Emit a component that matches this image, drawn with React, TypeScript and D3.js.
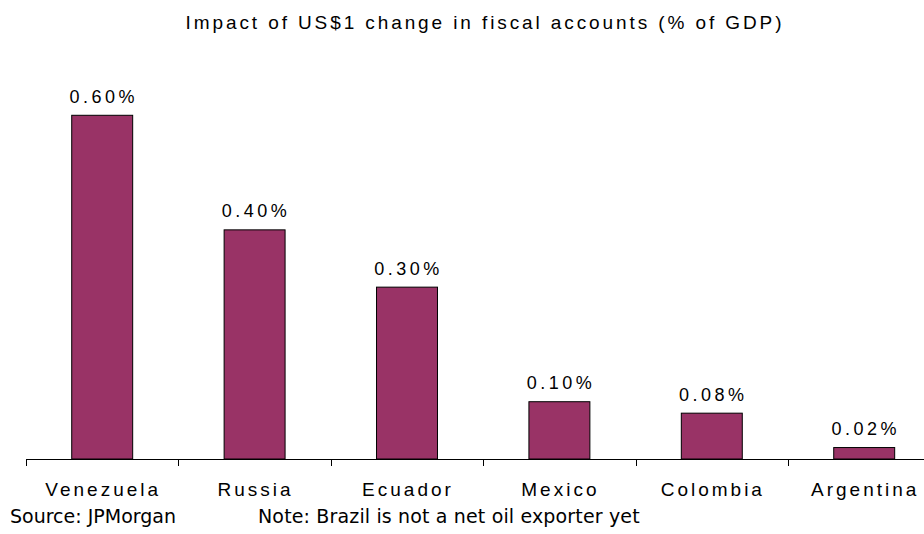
import React from "react";
import * as d3 from "d3";

const categories = ["Venezuela", "Russia", "Ecuador", "Mexico", "Colombia", "Argentina"];
const values = [0.6, 0.4, 0.3, 0.1, 0.08, 0.02];
const valueLabels = ["0.60%", "0.40%", "0.30%", "0.10%", "0.08%", "0.02%"];
const title = "Impact of US$1 change in fiscal accounts (% of GDP)";
const sourceText = "Source: JPMorgan";
const noteText = "Note: Brazil is not a net oil exporter yet";

export default function App() {
  const W = 924, H = 534;
  const x0 = 26, step = 152.4;
  const x = d3.scaleBand<string>().domain(categories).range([x0, x0 + step * categories.length]).padding(0);
  const y = d3.scaleLinear().domain([0, 0.7]).range([459, 58]);
  const bw = x.bandwidth() * 0.4;
  const ticks = d3.range(categories.length + 1).map((i) => x0 + i * x.step());
  const labelFont = "'Liberation Sans', Arial, sans-serif";
  return (
    <svg width={W} height={H} style={{ position: "absolute", left: 0, top: 0, background: "#fff" }}>
      <text x={485} y={29} textAnchor="middle" fontFamily={labelFont} fontSize={19} letterSpacing={2.9} fill="#000">
        {title}
      </text>
      {categories.map((c, i) => {
        const cx = (x(c) as number) + x.bandwidth() / 2;
        return (
          <g key={c}>
            <rect x={cx - bw / 2} y={y(values[i])} width={bw} height={y(0) - y(values[i])} fill="#993366" stroke="#000" strokeWidth={1} />
            <text x={cx + 1.5} y={y(values[i]) - 12.5} textAnchor="middle" fontFamily={labelFont} fontSize={18} letterSpacing={3.5} fill="#000">
              {valueLabels[i]}
            </text>
            <text x={cx + 1} y={496} textAnchor="middle" fontFamily={labelFont} fontSize={19} letterSpacing={3} fill="#000">
              {c}
            </text>
          </g>
        );
      })}
      <line x1={x0} x2={W} y1={459.5} y2={459.5} stroke="#000" strokeWidth={1} />
      {ticks.map((t, i) => (
        <line key={i} x1={Math.round(t) + 0.5} x2={Math.round(t) + 0.5} y1={459} y2={466} stroke="#000" strokeWidth={1} />
      ))}
      <text x={10} y={523} fontFamily="'DejaVu Sans', Verdana, sans-serif" fontSize={19} fill="#000">
        {sourceText}
      </text>
      <text x={258} y={523} fontFamily="'DejaVu Sans', Verdana, sans-serif" fontSize={19} letterSpacing={0.15} fill="#000">
        {noteText}
      </text>
    </svg>
  );
}
